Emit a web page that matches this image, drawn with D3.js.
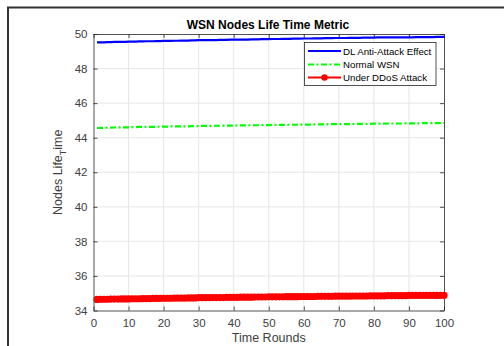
<!DOCTYPE html>
<html>
<head>
<meta charset="utf-8">
<script src="https://cdn.jsdelivr.net/npm/d3@7"></script>
<style>
  body { margin: 0; background: #fff; }
  svg { display: block; font-family: Arial, "Liberation Sans", sans-serif; }
</style>
</head>
<body>
<div id="chart"></div>
<script>
// values, one per round (1..100)
const rounds = d3.range(1, 101);

const dlAntiAttack = [
  49.51,49.52,49.52,49.53,49.53,49.54,49.54,49.55,49.55,49.56,
  49.56,49.56,49.57,49.57,49.58,49.58,49.58,49.59,49.59,49.60,
  49.60,49.60,49.61,49.61,49.62,49.62,49.62,49.63,49.63,49.64,
  49.64,49.64,49.65,49.65,49.65,49.66,49.66,49.66,49.67,49.67,
  49.67,49.68,49.68,49.68,49.69,49.69,49.69,49.70,49.70,49.70,
  49.71,49.71,49.71,49.72,49.72,49.72,49.73,49.73,49.73,49.74,
  49.74,49.74,49.75,49.75,49.75,49.76,49.76,49.76,49.77,49.77,
  49.77,49.77,49.78,49.78,49.78,49.78,49.79,49.79,49.79,49.79,
  49.80,49.80,49.80,49.80,49.80,49.81,49.81,49.81,49.81,49.81,
  49.81,49.82,49.82,49.82,49.82,49.82,49.82,49.83,49.83,49.83
];

const normalWSN = [
  44.56,44.57,44.57,44.58,44.58,44.59,44.59,44.60,44.60,44.60,
  44.61,44.61,44.62,44.62,44.62,44.63,44.63,44.63,44.64,44.64,
  44.64,44.65,44.65,44.65,44.66,44.66,44.66,44.67,44.67,44.67,
  44.68,44.68,44.68,44.69,44.69,44.69,44.70,44.70,44.70,44.70,
  44.71,44.71,44.71,44.72,44.72,44.72,44.72,44.73,44.73,44.73,
  44.74,44.74,44.74,44.74,44.75,44.75,44.75,44.75,44.76,44.76,
  44.76,44.76,44.77,44.77,44.77,44.77,44.78,44.78,44.78,44.78,
  44.79,44.79,44.79,44.79,44.80,44.80,44.80,44.80,44.80,44.81,
  44.81,44.81,44.81,44.82,44.82,44.82,44.82,44.82,44.83,44.83,
  44.83,44.83,44.83,44.84,44.84,44.84,44.84,44.84,44.85,44.85
];

const underDDoS = [
  34.64,34.65,34.65,34.65,34.66,34.66,34.66,34.67,34.67,34.67,
  34.68,34.68,34.68,34.69,34.69,34.69,34.70,34.70,34.70,34.71,
  34.71,34.71,34.72,34.72,34.72,34.72,34.73,34.73,34.73,34.74,
  34.74,34.74,34.74,34.75,34.75,34.75,34.75,34.76,34.76,34.76,
  34.76,34.77,34.77,34.77,34.77,34.78,34.78,34.78,34.78,34.79,
  34.79,34.79,34.79,34.79,34.80,34.80,34.80,34.80,34.81,34.81,
  34.81,34.81,34.81,34.82,34.82,34.82,34.82,34.82,34.83,34.83,
  34.83,34.83,34.83,34.84,34.84,34.84,34.84,34.84,34.85,34.85,
  34.85,34.85,34.85,34.86,34.86,34.86,34.86,34.86,34.86,34.87,
  34.87,34.87,34.87,34.87,34.87,34.88,34.88,34.88,34.88,34.88
];

const xTicks = [0, 10, 20, 30, 40, 50, 60, 70, 80, 90, 100];
const yTicks = [34, 36, 38, 40, 42, 44, 46, 48, 50];
const seriesNames = ['DL Anti-Attack Effect', 'Normal WSN', 'Under DDoS Attack'];

const W = 504, H = 346;
const m = { left: 93.5, right: 60, top: 34, bottom: 35.5 };
const axisCol = '#262626';
const tickCol = '#404040';

const svg = d3.select('#chart').append('svg').attr('width', W).attr('height', H);

// outer figure frame (only top and left edges show in the crop)
svg.append('path')
  .attr('d', `M8,${H} V7.5 H${W}`)
  .attr('fill', 'none').attr('stroke', '#333').attr('stroke-width', 2);

const x = d3.scaleLinear().domain([0, 100]).range([m.left, W - m.right]);
const y = d3.scaleLinear().domain([34, 50]).range([H - m.bottom, m.top]);

// grid
const g = svg.append('g');
g.selectAll('.gx').data(xTicks.slice(1, -1)).join('line')
  .attr('x1', d => x(d)).attr('x2', d => x(d))
  .attr('y1', y(34)).attr('y2', y(50))
  .attr('stroke', '#e6e6e6').attr('stroke-width', 1);
g.selectAll('.gy').data(yTicks.slice(1, -1)).join('line')
  .attr('x1', x(0)).attr('x2', x(100))
  .attr('y1', d => y(d)).attr('y2', d => y(d))
  .attr('stroke', '#e6e6e6').attr('stroke-width', 1);

// axes (ticks inward, box on)
const xAxis = svg.append('g').attr('transform', `translate(0,${y(34)})`)
  .call(d3.axisBottom(x).tickValues(xTicks).tickSizeInner(-4).tickSizeOuter(0).tickPadding(8));
const xTop = svg.append('g').attr('transform', `translate(0,${y(50)})`)
  .call(d3.axisTop(x).tickValues(xTicks).tickSizeInner(-4).tickSizeOuter(0).tickFormat(''));
const yAxis = svg.append('g').attr('transform', `translate(${x(0)},0)`)
  .call(d3.axisLeft(y).tickValues(yTicks).tickSizeInner(-4).tickSizeOuter(0).tickPadding(6));
const yRight = svg.append('g').attr('transform', `translate(${x(100)},0)`)
  .call(d3.axisRight(y).tickValues(yTicks).tickSizeInner(-4).tickSizeOuter(0).tickFormat(''));

[xAxis, xTop, yAxis, yRight].forEach(a => {
  a.selectAll('path, line').attr('stroke', axisCol).attr('stroke-width', 0.8);
  a.selectAll('text').attr('fill', tickCol).attr('font-size', 11.5)
    .attr('font-family', 'Arial, "Liberation Sans", sans-serif');
});

// series
const line = d3.line().x((d, i) => x(rounds[i])).y(d => y(d));

svg.append('path').datum(dlAntiAttack)
  .attr('d', line).attr('fill', 'none')
  .attr('stroke', '#0000ff').attr('stroke-width', 2.2);

svg.append('path').datum(normalWSN)
  .attr('d', line).attr('fill', 'none')
  .attr('stroke', '#00ff00').attr('stroke-width', 2.2)
  .attr('stroke-dasharray', '6,2.5,2,2.5');

svg.append('path').datum(underDDoS)
  .attr('d', line).attr('fill', 'none')
  .attr('stroke', '#ff0000').attr('stroke-width', 2.2);
svg.append('g').selectAll('circle').data(underDDoS).join('circle')
  .attr('cx', (d, i) => x(rounds[i])).attr('cy', d => y(d))
  .attr('r', 3.6).attr('fill', '#ff0000');

// title and labels
svg.append('text').attr('x', 268).attr('y', 29)
  .attr('text-anchor', 'middle').attr('font-size', 12).attr('font-weight', 'bold')
  .attr('fill', '#000').text('WSN Nodes Life Time Metric');

svg.append('text').attr('x', (x(0) + x(100)) / 2).attr('y', 342)
  .attr('text-anchor', 'middle').attr('font-size', 12.5).attr('fill', tickCol)
  .text('Time Rounds');

const yl = svg.append('text')
  .attr('transform', `translate(62,${(y(34) + y(50)) / 2}) rotate(-90)`)
  .attr('text-anchor', 'middle').attr('font-size', 12.5).attr('fill', tickCol);
yl.append('tspan').text('Nodes Life');
yl.append('tspan').attr('dy', 4).attr('font-size', 9).text('T');
yl.append('tspan').attr('dy', -4).text('ime');

// legend
const lg = svg.append('g');
lg.append('rect').attr('x', 304.5).attr('y', 42.5).attr('width', 131.5).attr('height', 43)
  .attr('fill', '#fff').attr('stroke', axisCol).attr('stroke-width', 0.8);
const legY = [51, 64.5, 77.5];
const legStyle = [
  { c: '#0000ff', dash: null, dot: false },
  { c: '#00ff00', dash: '6,2.5,2,2.5', dot: false },
  { c: '#ff0000', dash: null, dot: true }
];
seriesNames.forEach((name, i) => {
  const s = legStyle[i];
  lg.append('line').attr('x1', 308).attr('x2', 341).attr('y1', legY[i]).attr('y2', legY[i])
    .attr('stroke', s.c).attr('stroke-width', 2.2)
    .attr('stroke-dasharray', s.dash);
  if (s.dot) lg.append('circle').attr('cx', 324.5).attr('cy', legY[i]).attr('r', 3.2).attr('fill', s.c);
  lg.append('text').attr('x', 343).attr('y', legY[i] + 3.5)
    .attr('font-size', 9.7).attr('fill', '#000').text(name);
});
</script>
</body>
</html>
